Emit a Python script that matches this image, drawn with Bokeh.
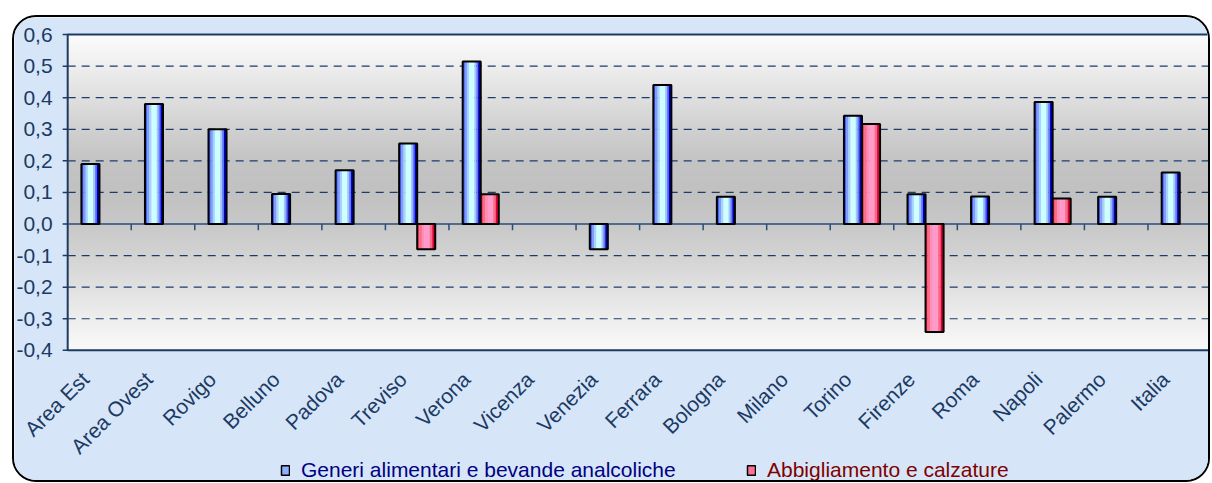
import math
import numpy as np
from bokeh.plotting import figure
from bokeh.models import Range1d, Legend, LegendItem, ColumnDataSource
from bokeh.core.properties import value
from bokeh.transform import dodge
from bokeh.embed import file_html
from bokeh.resources import INLINE

nan = float("nan")

# ---------------- data ----------------
categories = ["Area Est", "Area Ovest", "Rovigo", "Belluno", "Padova", "Treviso",
              "Verona", "Vicenza", "Venezia", "Ferrara", "Bologna", "Milano",
              "Torino", "Firenze", "Roma", "Napoli", "Palermo", "Italia"]
alimentari = [0.19, 0.38, 0.30, 0.095, 0.17, 0.255, 0.515, nan, -0.08, 0.44,
              0.086, nan, 0.343, 0.094, 0.087, 0.386, 0.086, 0.163]
abbigliamento = [nan, nan, nan, nan, nan, -0.08, 0.094, nan, nan, nan,
                 nan, nan, 0.317, -0.342, nan, 0.081, nan, nan]
y_ticks = [-0.4, -0.3, -0.2, -0.1, 0.0, 0.1, 0.2, 0.3, 0.4, 0.5, 0.6]
y_tick_labels = [f"{t:.1f}".replace(".", ",") for t in y_ticks]
series_names = ["Generi alimentari e bevande analcoliche", "Abbigliamento e calzature"]

# ---------------- style ----------------
FONT = "Liberation Sans"
FS = "21px"
NAVY = "#1c3a64"
BAR_W = 0.284
X_LEFT = -0.837          # frame extends left of the plot box to host y labels
Y_BOTTOM = -0.825        # frame extends below the plot box to host labels + legend
Y_TOP = 0.654            # frame extends above the plot box so the top label is not cut
LABEL_Y = -0.48          # anchor of rotated category labels
LABEL_DX = -0.224
YLAB_X = -0.237          # right edge of y tick labels
TICK_LEN_X = 0.079
TICK_LEN_Y = 0.02
blue_stripes = [(0.00, 0.12, "#4060ff"), (0.12, 0.24, "#7f9cff"), (0.24, 0.36, "#aad2ff"),
                (0.36, 0.66, "#ccffff"), (0.66, 0.76, "#a6c2ff"), (0.76, 0.86, "#5d7cff"),
                (0.86, 1.00, "#0000c4")]
red_stripes = [(0.00, 0.12, "#ff3a5c"), (0.12, 0.26, "#ff6a88"), (0.26, 0.40, "#ff8db6"),
               (0.40, 0.70, "#ff9acb"), (0.70, 0.84, "#ff6786"), (0.84, 1.00, "#dc0035")]
BG = "#d6e6f8"

n = len(categories)
pos = [i + 0.5 for i in range(n)]   # category slot centres on the numeric x scale
source = ColumnDataSource(dict(x=pos, cat=categories, alim=alimentari, abb=abbigliamento))
ysrc = ColumnDataSource(dict(y=y_ticks, lab=y_tick_labels))
grid_src = ColumnDataSource(dict(y=[t for t in y_ticks[1:-1] if t != 0.0]))

p = figure(width=1198, height=467, x_range=Range1d(X_LEFT, n),
           y_range=Range1d(Y_BOTTOM, Y_TOP), x_axis_location=None, y_axis_location=None,
           output_backend="svg", toolbar_location=None,
           min_border_left=0, min_border_right=1, min_border_top=0, min_border_bottom=0)
p.styles = {"margin-left": "12px", "margin-top": "15px", "border": "2px solid #000000",
            "border-radius": "24px", "overflow": "hidden"}
p.border_fill_color = BG
p.background_fill_color = BG
p.outline_line_color = None
p.xgrid.grid_line_color = None
p.ygrid.grid_line_color = None

# gradient plot area (styling)
stops_y = [-0.4, -0.3, -0.2, -0.1, 0.0, 0.1, 0.2, 0.3, 0.4, 0.5, 0.6]
stops_g = [250, 238, 225, 211, 200, 193, 196, 209, 224, 239, 252]
yy = np.linspace(-0.4, 0.6, 300)
g = np.interp(yy, stops_y, stops_g).astype(np.uint8)
rgba = np.zeros((300, 2, 4), dtype=np.uint8)
rgba[:, :, 0] = g[:, None]
rgba[:, :, 1] = g[:, None]
rgba[:, :, 2] = g[:, None]
rgba[:, :, 3] = 255
img = rgba.view(dtype=np.uint32).reshape((300, 2))
p.image_rgba(image=[img], x=0, y=y_ticks[0], dw=n, dh=y_ticks[-1] - y_ticks[0], level="image")

# dashed grid lines inside the plot box
p.segment(x0=0, x1=n, y0="y", y1="y", source=grid_src, line_color="#1c3d6c",
          line_dash="8 6", line_width=1.2)

# zero line and category separators
p.segment(x0=0, x1=n, y0=0, y1=0, line_color="#2a4c78", line_width=1.5)
p.segment(x0=dodge("x", 0.5), x1=dodge("x", 0.5), y0=0, y1=-TICK_LEN_Y,
          line_color="#2a4c78", line_width=1.5,
          source=ColumnDataSource(dict(x=pos[:-1])))

# bars (striped to mimic cylinder gradient)
def draw_series(col, offset, stripes):
    for a, b, c in stripes:
        center = offset + ((a + b) / 2 - 0.5) * BAR_W
        p.vbar(x=dodge("x", center), width=(b - a) * BAR_W + 0.002,
               top=col, bottom=0, fill_color=c, line_color=None, source=source)
    p.vbar(x=dodge("x", offset), width=BAR_W, top=col, bottom=0,
           fill_color=None, line_color="#000000", line_width=2, source=source)

draw_series("alim", -BAR_W / 2, blue_stripes)
draw_series("abb", BAR_W / 2, red_stripes)

# plot-area box
p.quad(left=0, right=n, bottom=y_ticks[0], top=y_ticks[-1], fill_color=None,
       line_color=NAVY, line_width=2)

# y ticks and labels
p.segment(x0=-TICK_LEN_X, x1=0, y0="y", y1="y", source=ysrc, line_color=NAVY, line_width=1.5)
p.text(x=YLAB_X, y="y", text="lab", source=ysrc, text_align="right", text_baseline="middle",
       text_font=value(FONT), text_font_size=FS, text_color=NAVY)

# rotated category labels
p.text(x=dodge("x", LABEL_DX), y=LABEL_Y, text="cat", source=source, angle=math.pi / 4,
       text_align="right", text_baseline="middle", text_font=value(FONT),
       text_font_size=FS, text_color=NAVY)

# legend (separate legends for the two text colours)
dummy = ColumnDataSource(dict(x=[pos[0]], top=[nan]))
r_blue = p.vbar(x="x", top="top", width=0.1, source=dummy, fill_color="#8db0ff",
                line_color="#000000", line_width=1.5)
r_red = p.vbar(x="x", top="top", width=0.1, source=dummy, fill_color="#ff7096",
               line_color="#000000", line_width=1.5)

def make_legend(name, r, color, loc):
    lg = Legend(items=[LegendItem(label=name, renderers=[r])], location=loc,
                orientation="horizontal", background_fill_alpha=0, border_line_color=None,
                padding=0, margin=0, glyph_width=10, glyph_height=12, label_standoff=11,
                label_text_font=FONT, label_text_font_size=FS, label_text_color=color,
                label_height=14)
    p.add_layout(lg)

make_legend(series_names[0], r_blue, "#000080", (266, 2))
make_legend(series_names[1], r_red, "#800000", (732, 2))

open("out.html", "w").write(file_html(p, INLINE))
